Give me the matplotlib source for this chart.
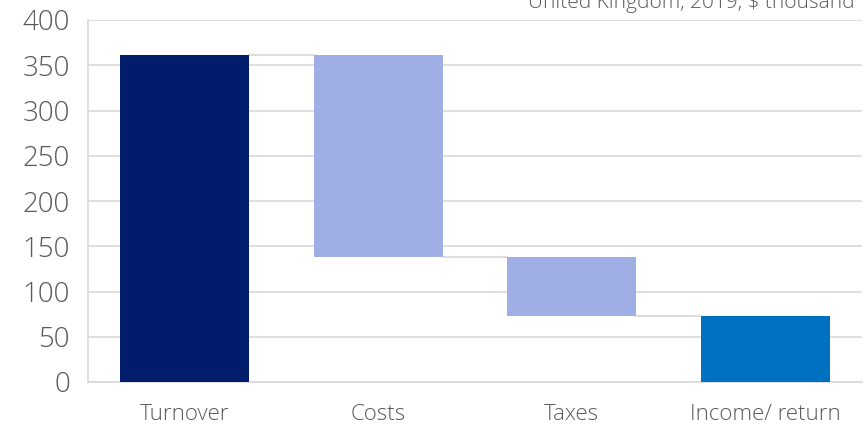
import matplotlib.pyplot as plt
import numpy as np

# ── DATA ──
categories = ['Turnover', 'Costs', 'Taxes', 'Income/ return']
amounts = [361, -223, -65, 73]          # change per step, last = total
is_total = [True, False, False, True]
colors = ['#001C6B', '#9FAEE5', '#9FAEE5', '#0070C0']
subtitle = 'United Kingdom, 2019, $ thousand'

# ── WATERFALL GEOMETRY ──
bottoms, heights = [], []
running = 0
for amt, tot in zip(amounts, is_total):
    if tot:
        bottoms.append(0)
        heights.append(amt)
        running = amt
    else:
        new = running + amt
        bottoms.append(min(running, new))
        heights.append(abs(amt))
        running = new

plt.rcParams['font.family'] = ['Open Sans', 'DejaVu Sans']
fig = plt.figure(figsize=(8.64, 4.30), dpi=100)
ax = fig.add_axes([88/864, 1-382/430, 774/864, 362/430])

x = np.arange(len(categories))
width = 0.665
ax.bar(x, heights, bottom=bottoms, color=colors, width=width, zorder=3)

# connector lines between bars
levels = [b + h for b, h in zip(bottoms, heights)]
for i in range(len(categories) - 1):
    level = levels[i] if (is_total[i] or amounts[i] > 0) else bottoms[i]
    ax.plot([x[i] + width/2, x[i+1] - width/2], [level, level],
            color='#D9D9D9', lw=1.3, zorder=2)

ax.set_xlim(-0.5, len(categories) - 0.5)
ax.set_ylim(0, 400)
ax.set_yticks(range(0, 401, 50))
ax.set_xticks(x)
ax.set_xticklabels(categories)
ax.grid(axis='y', color='#D9D9D9', lw=1.2, zorder=0)
for s in ['top', 'right']:
    ax.spines[s].set_visible(False)
ax.spines['left'].set_color('#D9D9D9')
ax.spines['bottom'].set_color('#D9D9D9')
ax.spines['left'].set_linewidth(1.2)
ax.spines['bottom'].set_linewidth(1.2)
ax.tick_params(axis='y', length=0, pad=13, labelsize=20, labelcolor='#595959')
ax.tick_params(axis='x', length=0, pad=16, labelsize=16, labelcolor='#595959')
for lbl in ax.get_yticklabels() + ax.get_xticklabels():
    lbl.set_fontweight('light')

fig.text(855/864, 1-8/430, subtitle, ha='right', va='baseline',
         fontsize=15, color='#595959', fontweight='light')

fig.savefig('out.png', dpi=100)
